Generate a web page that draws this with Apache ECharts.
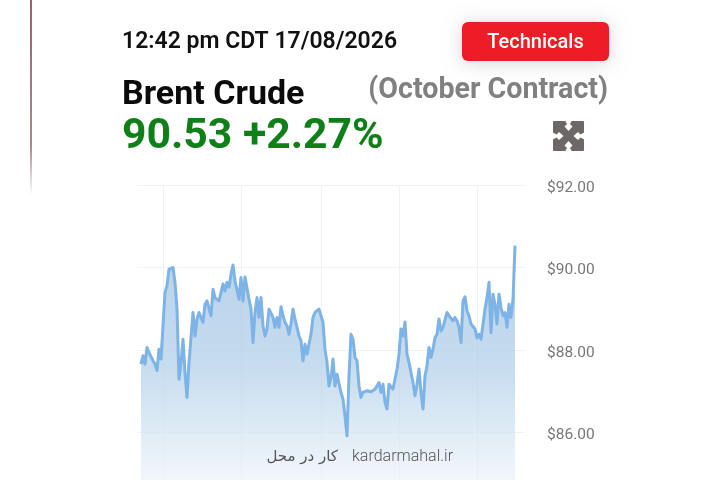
<!DOCTYPE html>
<html><head><meta charset="utf-8">
<style>html,body{margin:0;padding:0;background:#fff}#c{width:720px;height:480px}</style>
<script src="https://cdn.jsdelivr.net/npm/echarts@6/dist/echarts.min.js"></script>
</head><body><div id="c"></div>
<script>
const stamp = '12:42 pm CDT 17/08/2026';
const instrument = 'Brent Crude';
const contract = '(October Contract)';
const quote = '90.53 +2.27%';
const button = 'Technicals';
const yTicks = [84, 86, 88, 90, 92];
const leadingGap = [null, null];
const prices = [87.66,87.86,87.66,88.06,87.94,87.98,87.74,87.66,87.50,88.02,87.78,88.59,89.39,89.56,89.96,89.98,90.00,89.64,88.99,87.29,87.70,88.26,87.45,86.85,87.70,88.30,88.91,88.34,88.75,88.91,88.91,88.67,89.11,89.19,89.23,88.83,89.47,89.27,89.31,89.19,89.39,89.60,89.43,89.64,89.52,89.84,90.06,89.68,89.72,89.23,89.76,89.19,89.77,89.76,89.23,88.99,88.18,88.91,89.27,88.79,89.27,88.59,88.34,88.51,88.99,89.03,88.79,88.55,88.79,88.55,89.05,88.83,88.67,88.59,88.38,88.63,88.99,88.75,88.55,88.34,88.22,87.74,88.14,87.90,87.87,88.38,88.79,88.91,88.95,88.99,88.99,88.67,88.02,87.70,87.13,87.33,87.78,87.13,87.41,87.44,86.97,86.81,86.40,85.92,87.37,88.38,88.26,87.82,87.74,87.13,86.85,86.97,86.97,87.01,86.97,86.99,87.01,87.05,87.09,87.21,86.97,87.17,86.73,86.57,87.17,87.21,87.05,87.09,87.54,87.90,88.51,88.34,88.68,87.90,87.70,87.45,87.21,86.89,87.17,87.54,86.97,86.57,87.37,87.62,88.06,87.82,88.02,88.30,88.38,88.75,88.46,88.55,88.55,88.91,88.83,88.79,88.71,88.79,88.71,88.55,88.18,89.19,89.29,88.95,88.83,88.63,88.59,88.51,88.30,88.38,88.26,88.26,88.99,89.27,89.64,88.42,89.35,89.11,88.63,89.35,89.03,88.83,88.91,88.55,89.11,88.79,89.23,90.53];
const verticalGridAt = [13, 52, 92, 131, 170];
const trailingSlots = 5;

const series = leadingGap.concat(prices, new Array(trailingSlots).fill(null));
const categories = series.map((_, i) => String(i));
const font = 'Roboto';
const chart = echarts.init(document.getElementById('c'), null, {renderer: 'canvas'});
const txt = (x, y, text, size, fill, weight, align) => ({
  type: 'text', x, y, z: 20,
  style: {text, fontFamily: font, fontSize: size, fontWeight: weight || 500, fill, align: align || 'left', verticalAlign: 'middle'}
});
const notch = [[-3.5,-15.5],[3.5,-15.5],[1.5,-12],[4,-9.5],[0,-5],[-4,-9.5],[-1.5,-12]];
const iconCx = 568.5, iconCy = 136;
const notches = [[1,0],[0,1],[-1,0],[0,-1]].map(([c, s]) => ({
  type: 'polygon', z: 21, style: {fill: '#fff'},
  shape: {points: notch.map(([x, y]) => [iconCx + x * c - y * s, iconCy + x * s + y * c])}
}));
chart.setOption({
  animation: false,
  backgroundColor: '#fff',
  grid: {left: 137, width: 388, top: 185, height: 330, outerBoundsMode: 'none', containLabel: false},
  xAxis: {
    type: 'category', data: categories, boundaryGap: false,
    axisLine: {show: false}, axisTick: {show: false}, axisLabel: {show: false},
    splitLine: {show: true, interval: (i) => verticalGridAt.includes(i), lineStyle: {color: '#f1f1f1', width: 1}}
  },
  yAxis: {
    type: 'value', position: 'right', min: yTicks[0], max: yTicks[yTicks.length - 1], interval: 2,
    axisLine: {show: false}, axisTick: {show: false},
    axisLabel: {margin: 22, color: '#777', fontFamily: font, fontSize: 15.5, verticalAlign: 'top', lineHeight: 6, formatter: v => '$' + v.toFixed(2)},
    splitLine: {lineStyle: {color: '#f1f1f1', width: 1}}
  },
  series: [{
    type: 'line', data: series, showSymbol: false, smooth: false, connectNulls: false,
    lineStyle: {color: '#7db3e6', width: 3, join: 'round'},
    areaStyle: {color: {type: 'linear', x: 0, y: 0, x2: 0, y2: 1, colorStops: [
      {offset: 0, color: '#98bfe0'}, {offset: 0.45, color: '#aecde8'}, {offset: 1, color: '#ffffff'}]}}
  }],
  graphic: [
    {type: 'rect', shape: {x: 30, y: 0, width: 2, height: 195}, z: 5, style: {fill: {type: 'linear', x: 0, y: 0, x2: 0, y2: 1, colorStops: [
      {offset: 0, color: '#a0606a'}, {offset: 0.75, color: '#a88a8e'}, {offset: 1, color: '#ffffff'}]}}},
    {type: 'rect', shape: {x: 462, y: 22, width: 147, height: 39, r: 6}, z: 10,
      style: {fill: '#ed1c27', shadowBlur: 18, shadowColor: 'rgba(0,0,0,0.16)', shadowOffsetY: 2}},
    txt(535.5, 43, button, 20, '#fff', 500, 'center'),
    txt(122, 42, stamp, 23, '#111', 600),
    txt(122, 95, instrument, 34, '#0a0a0a', 700),
    txt(608, 91, contract, 28.6, '#808080', 700, 'right'),
    txt(122, 137, quote, 42.7, '#0f7f17', 700),
    {type: 'rect', z: 20, shape: {x: 553, y: 121, width: 31, height: 30, r: 1}, style: {fill: '#6e6767'}},
    ...notches,
    {type: 'text', x: 338, y: 457, z: 20, style: {text: 'کار در محل', fontFamily: 'DejaVu Sans', fontSize: 15, fill: '#555', align: 'right', verticalAlign: 'middle'}},
    {type: 'text', x: 352, y: 457, z: 20, style: {text: 'kardarmahal.ir', fontFamily: font, fontSize: 16, fontWeight: 300, fill: '#555', align: 'left', verticalAlign: 'middle'}}
  ]
});
</script></body></html>
